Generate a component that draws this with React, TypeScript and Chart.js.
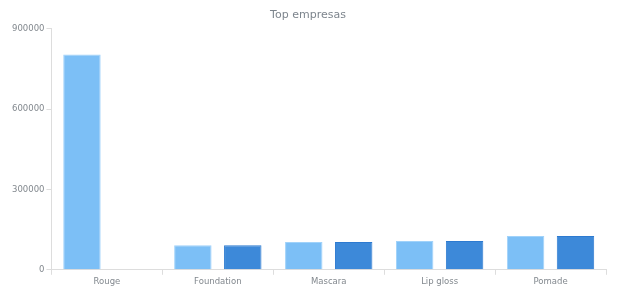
import React, { useEffect, useRef } from "react";
import { Chart, registerables } from "chart.js";

Chart.register(...registerables);

const categories = ["Rouge", "Foundation", "Mascara", "Lip gloss", "Pomade"];
const series1 = [804000, 91500, 104000, 107500, 126000];
const series2 = [null, 91500, 104000, 107500, 126000];
const yTicks = [0, 300000, 600000, 900000];

export default function App() {
  const ref = useRef<HTMLCanvasElement | null>(null);
  useEffect(() => {
    document.body.style.margin = "0";
    const ctx = ref.current!;
    const font = "'DejaVu Sans', sans-serif";
    const chart = new Chart(ctx, {
      type: "bar",
      data: {
        labels: categories,
        datasets: [
          {
            label: "Serie 1",
            data: series1,
            backgroundColor: "rgb(124,191,246)",
            borderColor: "rgb(160,210,250)",
            borderWidth: 1,
            categoryPercentage: 0.9,
            barPercentage: 0.75,
          },
          {
            label: "Serie 2",
            data: series2 as any,
            backgroundColor: "rgb(61,137,217)",
            borderColor: "rgb(45,122,208)",
            borderWidth: 1,
            categoryPercentage: 0.9,
            barPercentage: 0.75,
          },
        ],
      },
      options: {
        responsive: false,
        animation: false,
        layout: { padding: { left: 10, right: 14, top: 7, bottom: 11 } },
        plugins: {
          legend: { display: false },
          tooltip: { enabled: false },
          title: {
            display: true,
            text: "Top empresas",
            color: "rgb(125,133,141)",
            font: { family: font, size: 11, weight: "normal" },
            padding: { top: 2, bottom: 6.5 },
          },
        },
        scales: {
          x: {
            grid: {
              display: true,
              drawOnChartArea: false,
              offset: true,
              tickLength: 5,
              color: "rgb(221,221,221)",
            },
            border: { color: "rgb(221,221,221)" },
            ticks: {
              color: "rgb(130,136,142)",
              font: { family: font, size: 8.5 },
              padding: 2,
            },
          },
          y: {
            min: 0,
            max: 900000,
            afterBuildTicks: (axis: any) => {
              axis.ticks = yTicks.map((v) => ({ value: v }));
            },
            grid: {
              display: true,
              drawOnChartArea: false,
              tickLength: 5,
              color: "rgb(221,221,221)",
            },
            border: { color: "rgb(221,221,221)" },
            ticks: {
              color: "rgb(130,136,142)",
              font: { family: font, size: 8.5 },
              padding: 2,
              callback: (v: any) => String(v),
            },
          },
        },
      },
    });
    return () => chart.destroy();
  }, []);
  return (
    <div style={{ width: 620, height: 300 }}>
      <canvas ref={ref} width={620} height={300} />
    </div>
  );
}
